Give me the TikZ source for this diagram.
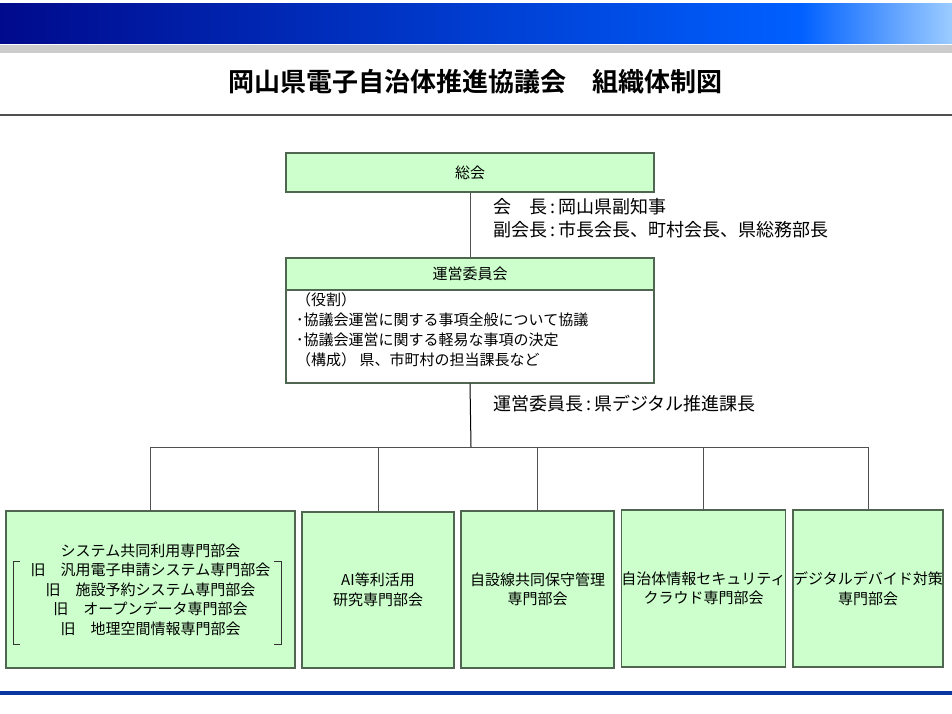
\documentclass[tikz,border=0pt]{standalone}
\usepackage{fontspec}
\setmainfont{Noto Sans CJK JP}
\newfontfamily\titlefont{Noto Sans CJK JP Bold}
\definecolor{boxfill}{HTML}{CCFFCC}
\definecolor{boxline}{HTML}{4F6650}
\definecolor{navy}{HTML}{000A8C}
\definecolor{midblue}{HTML}{0060FF}
\definecolor{lightblue}{HTML}{9CCCFF}
\definecolor{bandgray}{HTML}{CCCCCC}
\definecolor{footblue}{HTML}{0A36A0}
\definecolor{linegray}{HTML}{505050}
\tikzset{
  orgbox/.style={draw=boxline, line width=1.2pt, fill=boxfill, inner sep=0pt, align=center,
    font=\fontsize{15}{19.5}\selectfont},
  bodybox/.style={draw=boxline, line width=1.2pt, fill=white, inner sep=0pt},
  link/.style={draw=linegray, line width=1pt},
  lbl/.style={anchor=west, inner sep=0pt, align=left, font=\fontsize{18}{23}\selectfont},
  bodytext/.style={anchor=north west, inner sep=0pt, align=left, font=\fontsize{15}{20.3}\selectfont},
}
\begin{document}
\begin{tikzpicture}[x=1pt,y=-1pt]
\useasboundingbox (0,0) rectangle (952,713);
\fill[white] (0,0) rectangle (952,713);
% top banner
\shade[left color=navy, right color=midblue] (0,3) rectangle (800,43);
\shade[left color=midblue, right color=lightblue] (800,3) rectangle (952,43);
\fill[bandgray] (0,44.5) rectangle (952,53);
\node[inner sep=0pt, font=\titlefont\fontsize{26}{30}\selectfont] (title) at (475,82) {岡山県電子自治体推進協議会　組織体制図};
\draw[line width=1.8pt, draw=linegray] (0,115) -- (952,115);
\fill[footblue] (0,691) rectangle (952,695);

% upper boxes
\node[orgbox, minimum width=368pt, minimum height=39pt] (soukai) at (470,172.5) {総会};
\node[orgbox, minimum width=368pt, minimum height=32pt] (unei) at (470,274) {運営委員会};
\node[bodybox, minimum width=368pt, minimum height=93pt] (ueibody) at (470,336.5) {};
\node[bodytext] (uetext) at (296,292) {（役割）\\･協議会運営に関する事項全般について協議\\･協議会運営に関する軽易な事項の決定\\（構成） 県、市町村の担当課長など};

\draw[link] (soukai.south) -- (unei.north);
\node[lbl] (kaicho) at (493,218) {会　長\,:\,岡山県副知事\\副会長\,:\,市長会長、町村会長、県総務部長};

% lower boxes
\node[orgbox, minimum width=289pt, minimum height=157pt] (b1) at (150.5,589.5) {システム共同利用専門部会\\旧　汎用電子申請システム専門部会\\旧　施設予約システム専門部会\\旧　オープンデータ専門部会\\旧　地理空間情報専門部会};
\node[orgbox, minimum width=152pt, minimum height=156pt] (b2) at (378,590) {AI等利活用\\研究専門部会};
\node[orgbox, minimum width=153pt, minimum height=157pt] (b3) at (537.5,589.5) {自設線共同保守管理\\専門部会};
\node[orgbox, minimum width=163pt, minimum height=157pt] (b4) at (703.5,588.5) {自治体情報セキュリティ\\クラウド専門部会};
\node[orgbox, minimum width=150pt, minimum height=157pt] (b5) at (868,588.5) {デジタルデバイド対策\\専門部会};

% brackets in b1
\draw[line width=0.8pt, draw=black!80] (20,561) -- (13,561) -- (13,644) -- (20,644);
\draw[line width=0.8pt, draw=black!80] (274,561) -- (281,561) -- (281,644) -- (274,644);

% connectors
\coordinate (hub) at (471,447);
\draw[link, draw=black] (ueibody.south) -- (hub);
\node[lbl] (ueicho) at (493,404) {運営委員長\,:\,県デジタル推進課長};
\draw[link] (b1.north) |- (hub) -| (b5.north);
\draw[link] (b2.north) -- (b2.north |- hub);
\draw[link] (b3.north) -- (b3.north |- hub);
\draw[link] (b4.north) -- (b4.north |- hub);
\end{tikzpicture}
\end{document}
